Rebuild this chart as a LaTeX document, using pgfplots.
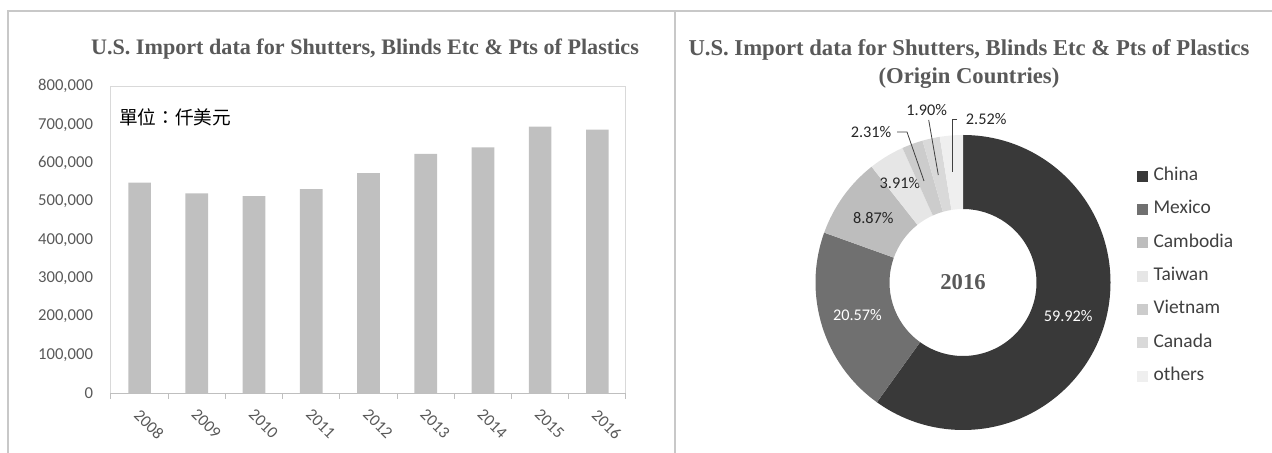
\documentclass[border=0pt]{standalone}
\usepackage{pgfplots}
\pgfplotsset{compat=1.18}
\usepackage{fontspec}
\setmainfont{Liberation Serif}
\newfontfamily\carlito{Carlito}
\newfontfamily\cjk{Noto Sans CJK TC}

\definecolor{framegray}{HTML}{C8C8C8}
\definecolor{titlegray}{HTML}{595959}
\definecolor{tickgray}{HTML}{595959}
\definecolor{bargray}{HTML}{C0C0C0}
\definecolor{plotframe}{HTML}{D9D9D9}
\definecolor{axisgray}{HTML}{BFBFBF}
\definecolor{labtext}{HTML}{262626}
\definecolor{legtext}{HTML}{404040}
\definecolor{cChina}{HTML}{393939}
\definecolor{cMexico}{HTML}{707070}
\definecolor{cCamb}{HTML}{BDBDBD}
\definecolor{cTaiwan}{HTML}{E6E6E6}
\definecolor{cViet}{HTML}{CCCCCC}
\definecolor{cCanada}{HTML}{D9D9D9}
\definecolor{cOthers}{HTML}{EFEFEF}

\tikzset{
  pct/.style={font=\carlito\fontsize{12.2}{14}\selectfont, text=labtext, inner sep=0pt},
  leader/.style={draw=legtext, line width=0.6pt},
}

\begin{document}
\begin{tikzpicture}[x=0.75pt, y=0.75pt]
\useasboundingbox (0,0) rectangle (1272,453);

% panel frames
\draw[framegray, line width=1pt] (8,0) -- (8,442) -- (1272,442);
\draw[framegray, line width=1pt] (675,0) -- (675,442);

% titles
\node[font=\bfseries\fontsize{16.6}{20}\selectfont, text=titlegray] at (365,404)
  {U.S. Import data for Shutters, Blinds Etc \& Pts of Plastics};
\node[font=\bfseries\fontsize{17}{21}\selectfont, text=titlegray, align=center] at (969,389)
  {U.S. Import data for Shutters, Blinds Etc \& Pts of Plastics\\(Origin Countries)};

% left: yearly imports (axis box 111..626 px wide, 86..393 px from the top)
\begin{axis}[
    at={(83.25pt,44.775pt)}, anchor=south west, scale only axis,
    width=386.25pt, height=230.25pt,
    xmin=-0.5, xmax=8.5, ymin=0, ymax=800000,
    axis x line*=bottom, axis y line*=left,
    x axis line style={draw=axisgray, line width=0.75pt, -},
    y axis line style={draw=none},
    axis background/.style={draw=plotframe, line width=0.75pt},
    xtick={0,1,2,3,4,5,6,7,8},
    xticklabels={2008,2009,2010,2011,2012,2013,2014,2015,2016},
    minor xtick={-0.5,0.5,1.5,2.5,3.5,4.5,5.5,6.5,7.5,8.5},
    major tick length=0pt, minor tick length=4pt, tick align=outside,
    minor tick style={draw=axisgray, line width=0.75pt},
    ytick={0,100000,200000,300000,400000,500000,600000,700000,800000},
    scaled y ticks=false,
    /pgf/number format/fixed,
    /pgf/number format/assume math mode=true,
    /pgf/number format/1000 sep={,},
    tick label style={font=\carlito\fontsize{12.5}{15}\selectfont, text=tickgray},
    yticklabel style={xshift=-10pt},
    xticklabel style={yshift=-14pt, xshift=-2pt, rotate=-45, anchor=west, inner sep=0pt},
]
\addplot[ybar, bar width=17pt, fill=bargray, draw=none] coordinates {
    (0,549000) (1,521000) (2,514000) (3,532000) (4,574000)
    (5,624000) (6,641000) (7,695000) (8,687000)
};
\end{axis}
\node[anchor=west, inner sep=0pt, font=\cjk\fontsize{14}{16}\selectfont] at (119,336) {單位：仟美元};

% right: 2016 shares by origin
\begin{axis}[
    at={(722.25pt,127.875pt)}, anchor=center, x=0.75pt, y=0.75pt,
    xmin=-150, xmax=150, ymin=-150, ymax=150, hide axis, clip=false,
    legend style={at={(1.08,0.884)}, anchor=north west, draw=none, fill=none,
      inner sep=0pt, outer sep=0pt, row sep=12pt, column sep=4.5pt,
      font=\carlito\fontsize{14.6}{17}\selectfont, text=legtext,
      nodes={text height=10pt, text depth=3pt, inner sep=0pt}},
    legend cell align=left,
    legend image code/.code={\fill[#1] (0pt,-3.75pt) rectangle (7.5pt,3.75pt);},
]
\addlegendimage{cChina}\addlegendentry{China}
\addlegendimage{cMexico}\addlegendentry{Mexico}
\addlegendimage{cCamb}\addlegendentry{Cambodia}
\addlegendimage{cTaiwan}\addlegendentry{Taiwan}
\addlegendimage{cViet}\addlegendentry{Vietnam}
\addlegendimage{cCanada}\addlegendentry{Canada}
\addlegendimage{cOthers}\addlegendentry{others}

\def\Rout{147.5}
\def\Rin{73.5}
\def\nolabel{none}
\xdef\angA{90}
\foreach \v/\c/\lc/\dx/\dy in {59.92/cChina/white/0/0, 20.57/cMexico/white/0/0,
    8.87/cCamb/labtext/0/0, 3.91/cTaiwan/labtext/-5.7/4.7,
    2.31/cViet/none/0/0, 1.90/cCanada/none/0/0, 2.52/cOthers/none/0/0}{
  \pgfmathsetmacro\angB{\angA-3.6*\v}
  \pgfmathsetmacro\xa{\Rout*cos(\angA)}
  \pgfmathsetmacro\ya{\Rout*sin(\angA)}
  \pgfmathsetmacro\xb{\Rin*cos(\angB)}
  \pgfmathsetmacro\yb{\Rin*sin(\angB)}
  \pgfmathsetmacro\am{(\angA+\angB)/2}
  \pgfmathsetmacro\xm{110.5*cos(\am)+\dx}
  \pgfmathsetmacro\ym{110.5*sin(\am)+\dy}
  \edef\temp{\noexpand\fill[\c] (axis cs:\xa,\ya)
    arc[start angle=\angA, end angle=\angB, radius=\Rout*0.75pt]
    -- (axis cs:\xb,\yb)
    arc[start angle=\angB, end angle=\angA, radius=\Rin*0.75pt] -- cycle;}
  \temp
  \edef\lctmp{\lc}
  \ifx\lctmp\nolabel\else
    \edef\temp{\noexpand\node[pct, text=\lc] at (axis cs:\xm,\ym) {\v\noexpand\%};}
    \temp
  \fi
  \xdef\angA{\angB}
}

% small slices: labels with leader lines
\draw[leader] (axis cs:-66,150.5) -- (axis cs:-56,150.5) -- (axis cs:-39,101.5);
\node[pct] at (axis cs:-92,150.2) {2.31\%};
\draw[leader] (axis cs:-34.3,162.5) -- (axis cs:-24.7,107.5);
\node[pct] at (axis cs:-36.3,172.5) {1.90\%};
\draw[leader] (axis cs:-6,163.5) -- (axis cs:-10.3,163.5) -- (axis cs:-10.3,110.5);
\node[pct, anchor=west] at (axis cs:2.7,163.5) {2.52\%};

\node[font=\bfseries\fontsize{17}{20}\selectfont, text=titlegray] at (axis cs:0,0) {2016};
\end{axis}
\end{tikzpicture}
\end{document}
